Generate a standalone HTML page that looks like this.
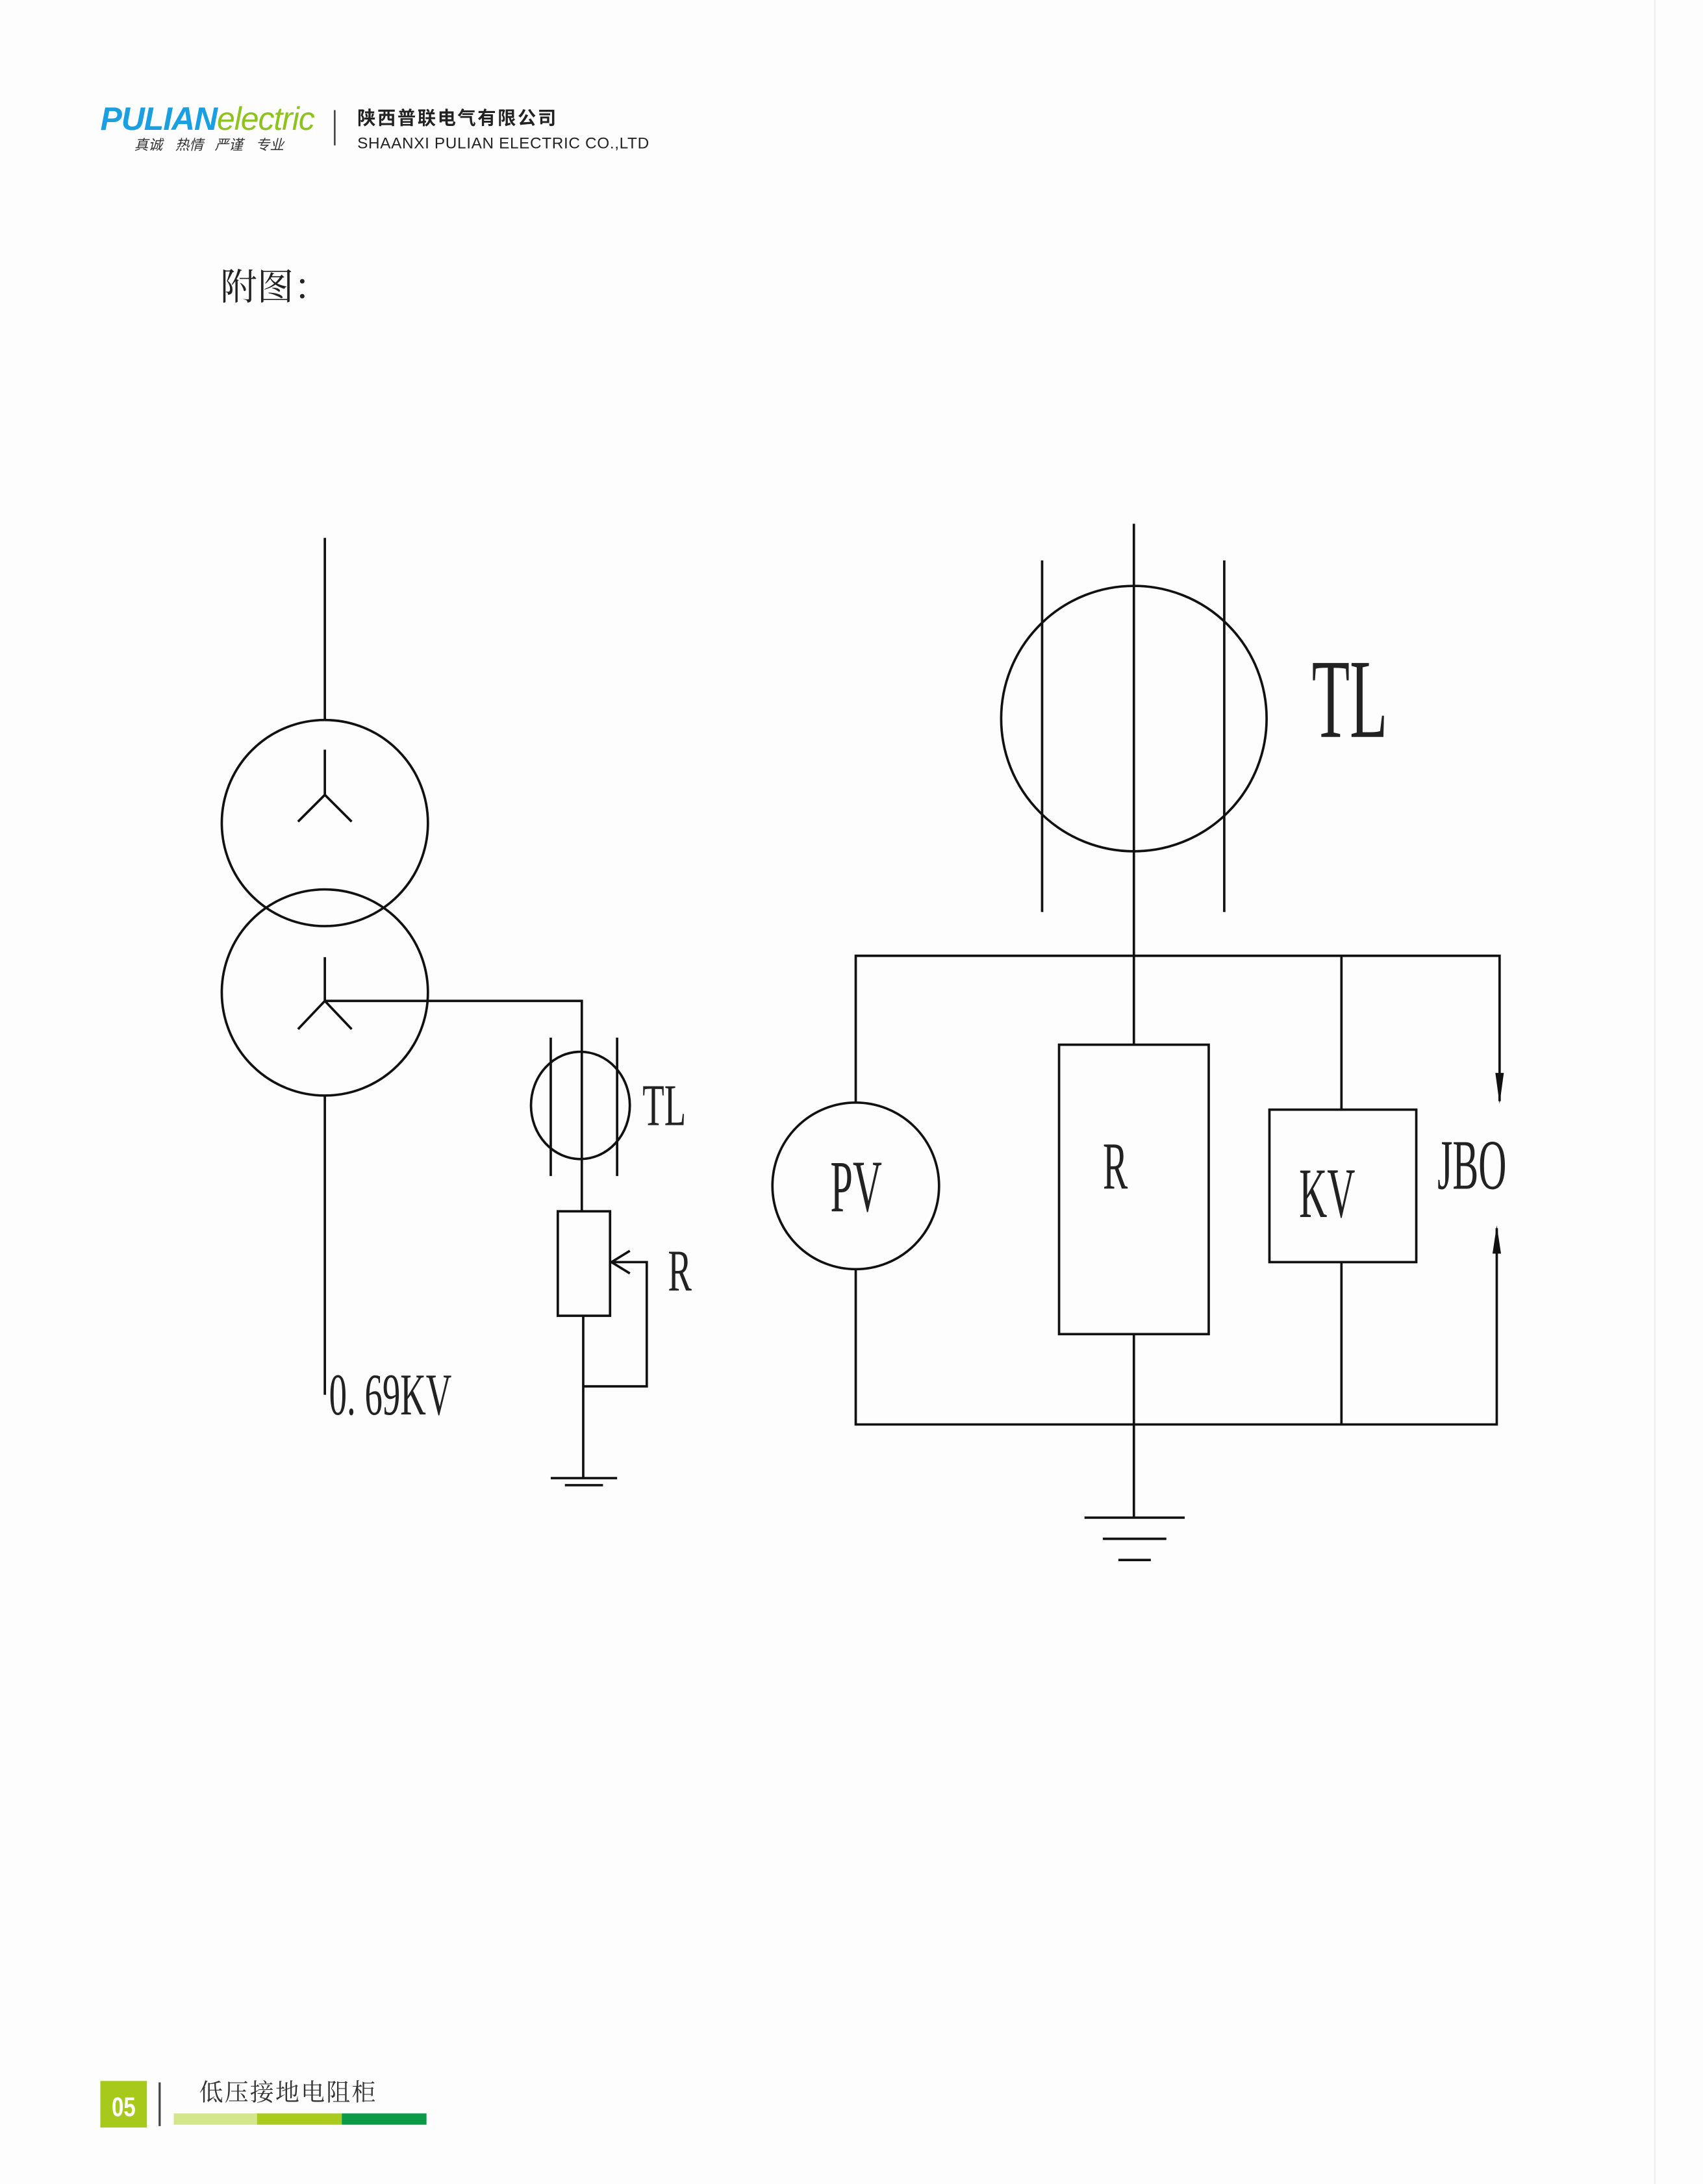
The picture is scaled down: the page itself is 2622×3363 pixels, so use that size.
<!DOCTYPE html>
<html><head><meta charset="utf-8"><style>
html,body{margin:0;padding:0;background:#fdfdfd;}
svg{display:block;}
</style></head><body>
<svg width="2622" height="3363" viewBox="0 0 1206 1547" xmlns="http://www.w3.org/2000/svg">
<rect x="0" y="0" width="1206" height="1547" fill="#fdfdfd"/>
<line x1="1172" y1="0" x2="1172" y2="1547" stroke="#eeeeee" stroke-width="1"/>
<!-- header -->
<text x="71" y="92" font-family="Liberation Sans, sans-serif" font-size="23" font-weight="bold" font-style="italic" fill="#1a9fe0" letter-spacing="-0.5">PULIAN<tspan fill="#8dc21f" font-weight="normal">electric</tspan></text>
<g font-family="Liberation Sans, 'Noto Sans CJK SC', sans-serif" font-size="10" font-style="italic" fill="#333">
<text x="95" y="106">真诚</text><text x="124" y="106">热情</text><text x="152" y="106">严谨</text><text x="181" y="106">专业</text>
</g>
<line x1="237" y1="78" x2="237" y2="103" stroke="#444" stroke-width="1.2"/>
<text x="253" y="88" font-family="Liberation Sans, 'Noto Sans CJK SC', sans-serif" font-size="13" font-weight="bold" fill="#222" letter-spacing="1.2">陕西普联电气有限公司</text>
<text x="253" y="105" font-family="Liberation Sans, sans-serif" font-size="11.2" fill="#222" letter-spacing="0.3">SHAANXI PULIAN ELECTRIC CO.,LTD</text>
<text x="156" y="212" font-family="Liberation Serif, 'Noto Serif CJK SC', serif" font-size="26" fill="#222">附图：</text>

<g stroke="#111" stroke-width="1.7" fill="none">
<!-- left diagram -->
<line x1="230" y1="381" x2="230" y2="510"/>
<circle cx="230" cy="583" r="73"/>
<circle cx="230" cy="703" r="73"/>
<polyline points="230,531 230,563"/>
<polyline points="211,582 230,563 249,582"/>
<polyline points="230,678 230,709"/>
<polyline points="211,729 230,709 249,729"/>
<polyline points="230,709 412,709 412,858"/>
<ellipse cx="411" cy="783" rx="35" ry="38"/>
<line x1="390" y1="735" x2="390" y2="833"/>
<line x1="437" y1="735" x2="437" y2="833"/>
<rect x="395" y="858" width="37" height="74"/>
<polyline points="432,894 458,894 458,982 413,982"/>
<polyline points="446,886 433,894 446,902"/>
<line x1="413" y1="932" x2="413" y2="1047"/>
<line x1="390" y1="1047" x2="437" y2="1047"/>
<line x1="400" y1="1052" x2="427" y2="1052"/>
<line x1="230" y1="776" x2="230" y2="988"/>
<!-- right diagram -->
<line x1="803" y1="371" x2="803" y2="740"/>
<circle cx="803" cy="509" r="94"/>
<line x1="738" y1="397" x2="738" y2="646"/>
<line x1="867" y1="397" x2="867" y2="646"/>
<polyline points="606,781 606,677 1062,677 1062,780"/>
<circle cx="606" cy="840" r="59"/>
<polyline points="606,899 606,1009 1060,1009 1060,870"/>
<rect x="750" y="740" width="106" height="205"/>
<rect x="899" y="786" width="104" height="108"/>
<line x1="950" y1="677" x2="950" y2="786"/>
<line x1="950" y1="894" x2="950" y2="1009"/>
<line x1="803" y1="945" x2="803" y2="1075"/>
<line x1="768" y1="1075" x2="839" y2="1075"/>
<line x1="781" y1="1090" x2="826" y2="1090"/>
<line x1="792" y1="1105" x2="815" y2="1105"/>
</g>
<polygon points="1059,760 1065,760 1062,782" fill="#111"/>
<polygon points="1057,888 1063,888 1060,868" fill="#111"/>

<g font-family="Liberation Serif, serif" fill="#222">
<text transform="translate(455,797) scale(0.6,1)" font-size="42">TL</text>
<text transform="translate(473,914) scale(0.6,1)" font-size="42">R</text>
<text transform="translate(233,1002) scale(0.6,1)" font-size="42">0. 69KV</text>
<text transform="translate(929,522) scale(0.55,1)" font-size="80">TL</text>
<text transform="translate(588,858) scale(0.55,1)" font-size="52">PV</text>
<text transform="translate(781,842) scale(0.55,1)" font-size="48">R</text>
<text transform="translate(920,862) scale(0.55,1)" font-size="50">KV</text>
<text transform="translate(1018,842) scale(0.55,1)" font-size="50">JBO</text>
</g>

<!-- footer -->
<rect x="71" y="1474" width="33" height="33" fill="#a6c91c"/>
<text x="87.5" y="1499" text-anchor="middle" font-family="Liberation Sans, sans-serif" font-size="19" font-weight="bold" fill="#fff" transform="translate(87.5,0) scale(0.8,1) translate(-87.5,0)">05</text>
<line x1="113" y1="1475" x2="113" y2="1506" stroke="#444" stroke-width="1.5"/>
<text x="141" y="1488" font-family="Liberation Serif, 'Noto Serif CJK SC', serif" font-size="17" fill="#333" letter-spacing="1">低压接地电阻柜</text>
<rect x="123" y="1497" width="60" height="8" fill="#d4e58a"/>
<rect x="182" y="1497" width="60" height="8" fill="#aacb1e"/>
<rect x="242" y="1497" width="60" height="8" fill="#0a9a48"/>
</svg>
</body></html>
